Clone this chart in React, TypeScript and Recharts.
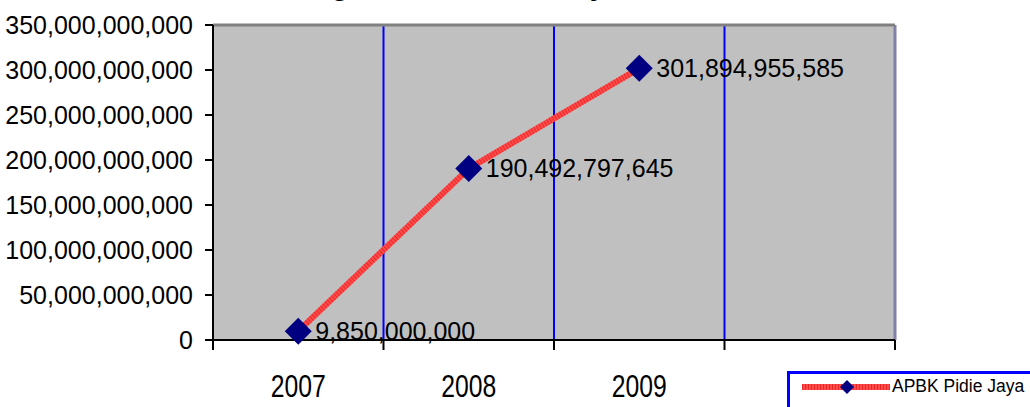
import { CartesianGrid, LabelList, Line, LineChart, ReferenceLine, XAxis, YAxis } from "recharts";

const categories = ["2007", "2008", "2009", ""];
const apbkValues = [9850000000, 190492797645, 301894955585];
const yTicks = [0, 50e9, 100e9, 150e9, 200e9, 250e9, 300e9, 350e9];
const seriesName = "APBK Pidie Jaya";
const title = "Perkembangan APBK Pidie Jaya";

// category i sits in the middle of slot [i, i+1]
const data = apbkValues.map((v, i) => ({ x: i + 0.5, name: categories[i], value: v }));
const xTicks = [0, 0.5, 1, 1.5, 2, 2.5, 3, 3.5, 4];

const sans = '"Liberation Sans", Arial, sans-serif';

function fmt(v: number): string {
  return v.toLocaleString("en-US");
}

function Diamond(props: any) {
  const { cx, cy } = props;
  if (cx == null || cy == null) return null;
  const r = 13.5;
  return (
    <polygon
      points={`${cx},${cy - r} ${cx + r},${cy} ${cx},${cy + r} ${cx - r},${cy}`}
      fill="#000080"
    />
  );
}

function XTick(props: any) {
  const { x, y, payload } = props;
  const v = payload.value as number;
  if (Number.isInteger(v)) {
    return <line x1={x} y1={y} x2={x} y2={y + 10} stroke="#000" strokeWidth={2} />;
  }
  const label = categories[Math.floor(v)] ?? "";
  if (!label) return null;
  // condensed look: tall glyphs squeezed to the original width
  return (
    <text
      x={x}
      y={y + 57}
      textAnchor="middle"
      fontSize={32}
      fontFamily={sans}
      fill="#000"
      textLength={55}
      lengthAdjust="spacingAndGlyphs"
    >
      {label}
    </text>
  );
}

function ValueLabel(props: any) {
  const { x, y, value } = props;
  return (
    <text x={x + 17} y={y + 8.5} fontSize={25} fontFamily={sans} fill="#000">
      {fmt(Number(value))}
    </text>
  );
}

export default function App() {
  return (
    <div
      style={{
        position: "absolute",
        left: 0,
        top: 0,
        width: 1030,
        height: 407,
        overflow: "hidden",
        background: "#fff",
      }}
    >
      <div
        style={{
          position: "absolute",
          left: 175,
          top: -31,
          fontFamily: sans,
          fontWeight: "bold",
          fontSize: 29,
          whiteSpace: "nowrap",
        }}
      >
        {title}
      </div>
      <LineChart
        width={1030}
        height={407}
        data={data}
        margin={{ top: 25, right: 135, bottom: 0, left: 0 }}
      >
        <CartesianGrid fill="#C0C0C0" horizontal={false} vertical={false} />
        {[1, 2, 3].map((v) => (
          <ReferenceLine key={v} x={v} stroke="#0000FF" strokeWidth={2} />
        ))}
        <ReferenceLine x={4} stroke="#8080A8" strokeWidth={3} />
        <ReferenceLine y={350e9} stroke="#808080" strokeWidth={3} />
        <XAxis
          dataKey="x"
          type="number"
          domain={[0, 4]}
          ticks={xTicks}
          interval={0}
          tick={<XTick />}
          tickLine={false}
          tickSize={0}
          tickMargin={0}
          height={67}
          axisLine={{ stroke: "#000", strokeWidth: 2 }}
        />
        <YAxis
          domain={[0, 350e9]}
          ticks={yTicks}
          interval={0}
          width={213}
          tickFormatter={fmt}
          tickSize={8}
          tickMargin={12}
          tick={{ fontSize: 25, fontFamily: sans, fill: "#000" }}
          tickLine={{ stroke: "#000", strokeWidth: 2 }}
          axisLine={{ stroke: "#000", strokeWidth: 2 }}
        />
        <Line
          type="linear"
          dataKey="value"
          stroke="#FF4A4A"
          strokeWidth={6}
          dot={false}
          activeDot={false}
          isAnimationActive={false}
        />
        <Line
          type="linear"
          dataKey="value"
          stroke="#E82A2A"
          strokeWidth={6}
          strokeDasharray="1 2"
          dot={<Diamond />}
          activeDot={false}
          isAnimationActive={false}
        >
          <LabelList dataKey="value" content={<ValueLabel />} />
        </Line>
      </LineChart>
      <div
        style={{
          position: "absolute",
          left: 787,
          top: 371,
          width: 260,
          height: 60,
          border: "3px solid #0000FF",
          background: "#fff",
          boxSizing: "border-box",
        }}
      >
        <svg width={100} height={30} style={{ position: "absolute", left: 12, top: 1 }}>
          <line x1={0} y1={12} x2={88} y2={12} stroke="#FF4A4A" strokeWidth={6} />
          <line x1={0} y1={12} x2={88} y2={12} stroke="#E82A2A" strokeWidth={6} strokeDasharray="1 2" />
          <polygon points="45,5 52,12 45,19 38,12" fill="#000080" />
        </svg>
        <div
          style={{
            position: "absolute",
            left: 102,
            top: 2,
            fontFamily: sans,
            fontSize: 17.5,
            color: "#000",
            whiteSpace: "nowrap",
          }}
        >
          {seriesName}
        </div>
      </div>
    </div>
  );
}
